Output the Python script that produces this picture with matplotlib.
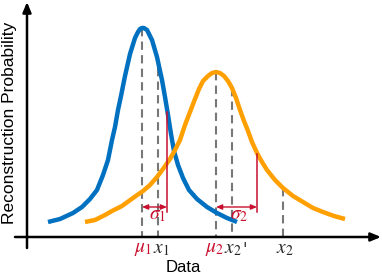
import matplotlib
matplotlib.use("Agg")
import matplotlib.pyplot as plt

plt.rcParams['font.family'] = ['Liberation Sans', 'DejaVu Sans']
plt.rcParams['mathtext.fontset'] = 'stix'

# curve samples (x, y in picture units, y grows downward)
blue_x = [48, 60, 73, 82, 90, 97, 103, 108, 112, 115, 118, 121, 125, 130, 135, 138, 140, 142,
          144, 147, 152, 157, 162, 165, 168, 171, 174, 178, 183, 189, 197, 207, 217, 227, 237]
blue_y = [222, 219, 213, 207, 199, 190, 175, 160, 140, 127, 110, 96, 76, 54, 38, 32, 29, 28,
          28, 30, 40, 57, 80, 97, 115, 134, 151, 165, 178, 190, 199, 207, 213, 218, 222]

orange_x = [85, 95, 105, 112, 122, 133, 143, 150, 157, 163, 170, 175, 180, 185, 190, 195,
            199, 203, 208, 212, 216, 220, 224, 228, 232, 236, 240, 244, 248, 252, 257, 262,
            267, 275, 283, 293, 303, 313, 323, 334, 345]
orange_y = [222, 220, 215, 211, 206, 198, 191, 185, 177, 169, 159, 150, 140, 125, 112, 99,
            89, 81, 76, 73, 72, 73, 76, 81, 88, 98, 110, 121, 131, 142, 153, 162,
            170, 180, 188, 196, 202, 208, 212, 216, 219]

# dashed guides: x position and top end
guide_x = [142, 158, 216, 232, 283]
guide_top = [28, 68, 72, 88, 188]

# sigma brackets: start (mean), end, top of the red line
sigma_start = [142, 216]
sigma_end = [167, 257]
sigma_top = [112, 154]
sigma_labels = [r"$\sigma_1$", r"$\sigma_2$"]

tick_x = [143, 161, 215, 233, 285]
tick_labels = [r"$\mu_1$", r"$x_1$", r"$\mu_2$", r"$x_2$", r"$x_2$"]
tick_red = [True, False, True, False, False]
prime_x = 245

BLUE = '#0070C0'
ORANGE = '#FFA000'
RED = '#C8102E'
GRAY = '#777777'
DARK = '#262626'
axis_y = 237

fig = plt.figure(figsize=(3.82, 2.76), dpi=100)
ax = fig.add_axes([0, 0, 1, 1])
ax.set_xlim(0, 382)
ax.set_ylim(276, 0)
ax.axis('off')

for gx, gt in zip(guide_x, guide_top):
    ax.plot([gx, gx], [gt, axis_y], color=GRAY, lw=1.5, dashes=(4, 2.5), zorder=2)

ax.plot(blue_x, blue_y, color=BLUE, lw=3.2, solid_capstyle='butt',
        solid_joinstyle='round', zorder=3)
ax.plot(orange_x, orange_y, color=ORANGE, lw=3.2, solid_capstyle='butt',
        solid_joinstyle='round', zorder=3)

arrow_y = 207
for s0, s1, st, lab in zip(sigma_start, sigma_end, sigma_top, sigma_labels):
    ax.plot([s1, s1], [st, 212], color=RED, lw=1.1, zorder=4)
    ax.annotate('', xy=(s0, arrow_y), xytext=(s1, arrow_y),
                arrowprops=dict(arrowstyle='<|-|>,head_length=0.35,head_width=0.15',
                                color=RED, lw=1.0, shrinkA=0, shrinkB=0), zorder=4)
    ax.text((s0 + s1) / 2 + 3, 207.5, lab, color=RED, fontsize=14,
            ha='center', va='top', zorder=5)

# axes with arrows
ax.annotate('', xy=(381, axis_y), xytext=(15, axis_y),
            arrowprops=dict(arrowstyle='-|>,head_length=0.6,head_width=0.25',
                            color='black', lw=1.8, shrinkA=0, shrinkB=0))
ax.annotate('', xy=(27, 2), xytext=(27, 248),
            arrowprops=dict(arrowstyle='-|>,head_length=0.6,head_width=0.25',
                            color='black', lw=1.8, shrinkA=0, shrinkB=0))

for tx, tl, red in zip(tick_x, tick_labels, tick_red):
    ax.text(tx, 249, tl, color=RED if red else DARK, fontsize=14,
            ha='center', va='center')
ax.text(prime_x, 241, "'", color=DARK, fontsize=12, ha='center', va='top',
        family='DejaVu Serif')

ax.text(183, 268, 'Data', fontsize=12, ha='center', va='center', color='black')
ax.text(10, 123, 'Reconstruction Probability', fontsize=12.5, rotation=90,
        ha='center', va='center', color='black')

fig.savefig('out.png', dpi=100)
